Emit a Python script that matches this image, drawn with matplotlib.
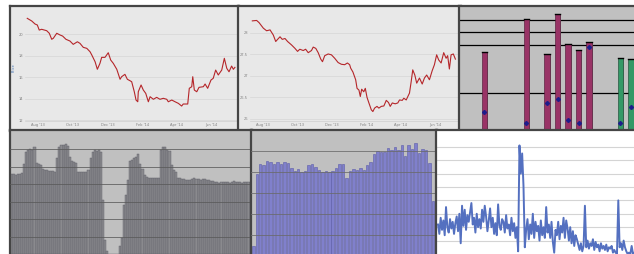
import numpy as np
import matplotlib.pyplot as plt

W, H = 634, 254

# top-left: price line (x in months, 1 = Aug '13)
p1_month = [0.38, 0.64, 0.83, 0.96, 1.07, 1.21, 1.50, 1.65, 1.79, 1.88,
            2.08, 2.27, 2.42, 2.61, 2.84, 3.03, 3.27, 3.42, 3.61, 3.81,
            4.00, 4.10, 4.29, 4.42, 4.57, 4.67, 4.86, 5.05, 5.19, 5.34,
            5.54, 5.73, 5.82, 6.01, 6.15, 6.30, 6.40, 6.55, 6.65, 6.75,
            6.78, 6.94, 7.07, 7.21, 7.36, 7.46, 7.65, 7.84, 8.03, 8.22,
            8.42, 8.51, 8.71, 8.90, 9.09, 9.28, 9.37, 9.63, 9.72, 9.86,
            9.92, 10.01, 10.15, 10.28, 10.53, 10.63, 10.78, 10.97, 11.10, 11.24,
            11.39, 11.59, 11.74, 11.88, 12.01, 12.16, 12.26, 12.35]
p1_price = [21.46, 21.21, 20.93, 20.84, 20.37, 20.44, 20.31, 20.07, 19.51, 19.60,
            20.07, 19.91, 19.81, 19.51, 19.35, 19.04, 19.28, 19.13, 18.76, 18.67,
            18.35, 18.05, 17.42, 16.72, 17.27, 17.83, 17.83, 18.26, 17.58, 17.27,
            16.72, 15.79, 16.03, 16.25, 15.79, 15.66, 15.56, 14.63, 13.86, 13.70,
            14.63, 15.26, 14.79, 14.48, 13.70, 14.17, 13.93, 14.11, 13.93, 14.02,
            13.93, 13.70, 13.86, 13.70, 13.55, 13.30, 13.49, 13.49, 14.95, 15.10,
            16.03, 14.79, 14.63, 15.04, 15.10, 15.35, 14.95, 15.72, 15.88, 16.65,
            16.19, 16.65, 17.74, 16.81, 16.49, 17.02, 16.72, 16.90]
p1_yticks = [12, 14, 16, 18, 20]

# top-middle: second price line
p2_month = [0.38, 0.63, 0.77, 1.02, 1.21, 1.41, 1.60, 1.74, 1.85, 1.99,
            2.12, 2.28, 2.43, 2.66, 2.86, 3.01, 3.14, 3.34, 3.48, 3.63,
            3.82, 3.92, 4.07, 4.21, 4.36, 4.46, 4.59, 4.79, 4.98, 5.17,
            5.37, 5.56, 5.75, 5.91, 6.04, 6.10, 6.23, 6.39, 6.47, 6.58,
            6.66, 6.74, 6.86, 6.95, 7.05, 7.16, 7.30, 7.39, 7.49, 7.63,
            7.74, 7.88, 8.03, 8.17, 8.30, 8.40, 8.52, 8.69, 8.84, 8.94,
            9.10, 9.19, 9.33, 9.52, 9.62, 9.71, 9.83, 9.94, 10.10, 10.26,
            10.39, 10.52, 10.68, 10.84, 10.97, 11.10, 11.22, 11.36, 11.51, 11.65,
            11.74, 11.84, 11.94, 12.07, 12.19]
p2_value = [28.28, 28.29, 28.24, 28.11, 28.05, 28.07, 27.95, 27.80, 27.85, 27.91,
            27.85, 27.87, 27.80, 27.72, 27.64, 27.57, 27.62, 27.59, 27.62, 27.54,
            27.59, 27.67, 27.64, 27.54, 27.39, 27.33, 27.47, 27.51, 27.49, 27.41,
            27.31, 27.27, 27.26, 27.30, 27.26, 27.18, 27.09, 26.91, 26.71, 26.67,
            26.52, 26.69, 26.63, 26.71, 26.50, 26.37, 26.21, 26.17, 26.25, 26.29,
            26.25, 26.29, 26.30, 26.43, 26.38, 26.29, 26.37, 26.35, 26.37, 26.44,
            26.43, 26.48, 26.44, 26.60, 26.87, 27.14, 27.02, 26.83, 26.95, 26.81,
            26.95, 27.02, 26.91, 27.12, 27.26, 27.49, 27.37, 27.30, 27.54, 27.41,
            27.47, 27.16, 27.49, 27.51, 27.39]
p2_yticks = [26, 26.5, 27, 27.5, 28]
p2_ylabels = ['26', '26.5', '27', '27.5', '28']

month_ticks = [1, 3, 5, 7, 9, 11]
month_labels = ["Aug '13", "Oct '13", "Dec '13", "Feb '14", "Apr '14", "Jun '14"]

# top-right: bars with markers
p3_slot = [0, 4, 6, 7, 8, 9, 10, 13, 14]
p3_height = [6.4, 9.1, 6.2, 9.5, 7.05, 6.56, 7.2, 5.9, 5.8]
p3_marker = [1.48, 0.57, 2.2, 2.54, 0.82, 0.57, 6.8, 0.57, 1.89]
p3_group = ['a', 'a', 'a', 'a', 'a', 'a', 'a', 'b', 'b']
p3_grid = [3, 7, 8, 9]

# bottom-left: dense gray bars
p4_values = [45.7, 45.7, 45.1, 45.7, 45.7, 46.3, 51.4,
             58.3, 59.4, 60.0, 59.4, 61.1,
             52.0, 51.4, 50.9,
             48.6, 48.0, 48.0, 47.4,
             47.4, 47.4, 46.9, 54.9,
             61.1, 62.3, 62.3, 62.9, 61.7,
             55.4, 53.1, 52.6, 52.0,
             46.9, 46.9, 46.9, 46.9, 46.9, 48.0, 54.9,
             58.3, 59.4, 58.9, 59.4, 58.3,
             30.9, 8.0, 1.7, 0, 0, 0, 0, 0, 4.6, 9.1, 28.0, 33.7, 42.3,
             53.1, 53.7, 54.9, 55.4, 57.1,
             51.4, 48.6, 45.1, 44.0,
             43.4, 43.4, 43.4, 43.4, 43.4, 43.4,
             59.4, 61.1, 61.1, 59.4, 58.9,
             50.9, 48.0, 46.9,
             43.4, 43.4, 42.9, 42.9, 42.3, 42.3, 42.3,
             42.9, 43.4, 42.9, 42.9, 42.3, 42.9, 42.9, 42.3, 42.3, 41.7,
             41.7, 41.1, 41.1, 40.6, 41.1, 41.1, 41.1, 41.1, 40.6, 41.1,
             41.7, 41.1, 41.1, 41.1, 40.6, 41.1, 41.1, 41.1, 41.1]

# bottom-middle: blue bars
p5_values = [4.6, 39.0, 43.8, 43.2, 45.1, 44.8, 43.8, 44.8, 43.8, 44.8,
             44.3, 41.7, 40.3, 41.2, 39.8, 40.3, 43.2, 43.8, 42.4, 41.0,
             39.8, 40.6, 39.8, 40.3, 41.7, 43.8, 43.8, 37.0, 40.3, 41.2,
             41.0, 41.9, 41.0, 43.2, 44.8, 48.6, 49.8, 49.5, 49.5, 51.4,
             50.5, 51.7, 50.5, 52.9, 47.6, 52.9, 50.9, 53.8, 49.2, 50.9,
             50.5, 44.1, 26.2]

# bottom-right: noisy line
p6_values = [22, 15, 27, 18, 25, 14, 35, 20, 16, 26, 19, 24, 15, 23, 28,
             17, 30, 8, 36, 21, 33, 18, 29, 24, 31,
             38, 22, 27, 16, 30, 20, 26, 19, 33, 24, 36, 28,
             17, 25, 34, 20, 27, 15, 23, 14, 37, 21, 18, 26,
             24, 16, 29, 19, 22, 14, 27, 17, 23, 12, 20,
             2, 81, 60, 75, 51, 5,
             18, 26, 11, 22, 15, 30, 12, 24, 17, 21, 10, 25, 14, 20, 12,
             35, 16, 22, 12, 24, 9, 1, 18,
             14, 24, 11, 21, 16, 27, 12, 25, 19,
             10, 20, 8, 17, 6, 14, 11, 7,
             3, 8, 2, 6, 36,
             5, 10, 4, 8, 6, 11, 3, 9, 5, 7, 2, 8, 4, 6, 3, 7, 2, 5, 4, 6, 1, 3,
             1, 0, 40, 5,
             8, 3, 10, 5, 2,
             0, 1, 0, 6, 0, 1]

BORDER = '#454545'
fig = plt.figure(figsize=(W / 100, H / 100), dpi=100)
fig.patch.set_facecolor('white')


def box(x0, y0, x1, y1):
    return fig.add_axes([x0 / W, 1 - y1 / H, (x1 - x0) / W, (y1 - y0) / H])


def frame(ax, fc):
    ax.set_facecolor(fc)
    ax.set_xticks([])
    ax.set_yticks([])
    for s in ax.spines.values():
        s.set_color(BORDER)
        s.set_linewidth(1.6)


def price_panel(fx0, fx1, ax_rect, xs, ys, xlim, ylim, yticks, ylabels, ylabel=None):
    fr = box(fx0, 6, fx1, 131)
    frame(fr, '#e8e8e8')
    ax = box(*ax_rect)
    ax.patch.set_alpha(0)
    ax.plot(xs, ys, color='#b5262a', lw=0.8)
    ax.set_xlim(*xlim)
    ax.set_ylim(*ylim)
    ax.set_yticks(yticks)
    ax.set_yticklabels(ylabels)
    ax.set_xticks(month_ticks)
    ax.set_xticklabels(month_labels)
    ax.grid(axis='y', color='#d6d6d6', lw=0.5)
    ax.tick_params(length=0, labelsize=2.6, colors='#808080', pad=1.5)
    for k in ['top', 'right', 'left']:
        ax.spines[k].set_visible(False)
    ax.spines['bottom'].set_color('#cfcfcf')
    ax.spines['bottom'].set_linewidth(0.5)
    if ylabel:
        ax.set_ylabel(ylabel, fontsize=2.6, color='#3d6fb0', labelpad=2)
    return ax


# top-left
price_panel(10, 239, (25, 15, 237, 121), p1_month, p1_price,
            (0.25, 12.47), (11.91, 21.77), p1_yticks, [str(t) for t in p1_yticks], 'Price')

# top-middle
price_panel(238, 461, (250, 14, 459, 121), p2_month, p2_value,
            (0.244, 12.40), (25.95, 28.44), p2_yticks, p2_ylabels)

# top-right
ax3 = box(459, 6, 637, 131)
frame(ax3, '#c0c0c0')
ax3.spines['right'].set_visible(False)
for g in p3_grid:
    ax3.axhline(g, color='black', lw=0.9, zorder=1)
for s, h, m, grp in zip(p3_slot, p3_height, p3_marker, p3_group):
    fc = '#993366' if grp == 'a' else '#339966'
    ax3.bar(s + 0.12, h, width=0.5, color='#8c8c8c', zorder=2)
    ax3.bar(s, h, width=0.5, color=fc, edgecolor='#4a1030' if grp == 'a' else '#10402a',
            lw=0.4, zorder=3)
    ax3.plot([s - 0.25, s + 0.25], [h, h], color='black', lw=1.0, zorder=4)
    ax3.plot(s, m, marker='P', ms=2.5, color='#1c1c8c', zorder=5)
ax3.set_xlim(-2.41, 14.58)
ax3.set_ylim(-0.08, 10.16)

# bottom-left
ax4 = box(10, 130, 252, 256)
frame(ax4, '#c0c0c0')
ax4.bar(np.arange(len(p4_values)), p4_values, width=1.0, color='#8a8a8e',
        edgecolor='#5c5c66', lw=0.3, zorder=2)
for g in [10, 20, 30, 40, 50, 60]:
    ax4.axhline(g, color='#5a5a5a', lw=0.7, alpha=0.8, zorder=3)
ax4.set_xlim(-0.8, len(p4_values) - 0.3)
ax4.set_ylim(-1.1, 70.9)

# bottom-middle
ax5 = box(251, 130, 437, 256)
frame(ax5, '#c0c0c0')
ax5.bar(np.arange(len(p5_values)), p5_values, width=0.72, color='#8080cc',
        edgecolor='#5c5ca8', lw=0.4, zorder=2)
for g in [10, 20, 30, 40, 50]:
    ax5.axhline(g, color='#6a6a6a', lw=0.7, alpha=0.8, zorder=3)
ax5.set_xlim(-0.67, 53.2)
ax5.set_ylim(0, 60)

# bottom-right
ax6 = box(436, 130, 637, 256)
frame(ax6, 'white')
ax6.spines['right'].set_visible(False)
for g in range(10, 90, 10):
    ax6.axhline(g, color='#d4d4d4', lw=0.8, zorder=1)
ax6.plot(np.arange(len(p6_values)), p6_values, color='#5470c0', lw=1.4, zorder=2)
ax6.set_xlim(-1.5, 149)
ax6.set_ylim(-1.5, 92.5)

fig.savefig('out.png', dpi=100)
